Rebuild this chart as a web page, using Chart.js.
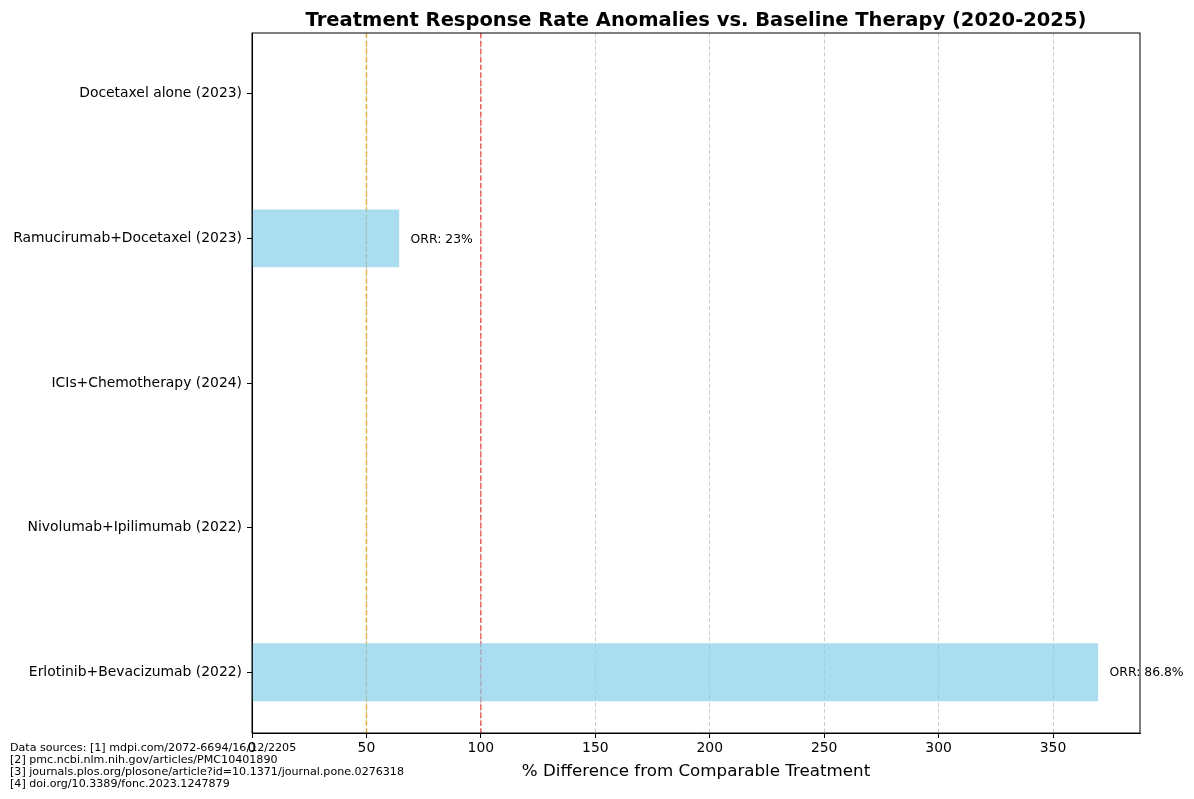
<!DOCTYPE html>
<html>
<head>
<meta charset="utf-8">
<script src="https://cdn.jsdelivr.net/npm/chart.js@4"></script>
<style>
    html, body { margin: 0; padding: 0; background: #fff; }
    #wrap { width: 1194px; height: 799px; }
</style>
</head>
<body>
<div id="wrap"><canvas id="chart"></canvas></div>
<script>
// bottom to top, same order as the picture's y axis from below
const treatments = [
    "Erlotinib+Bevacizumab (2022)",
    "Nivolumab+Ipilimumab (2022)",
    "ICIs+Chemotherapy (2024)",
    "Ramucirumab+Docetaxel (2023)",
    "Docetaxel alone (2023)"
];
const pctDifference = [369.7, null, null, 64.3, null];
const orrLabels = ["86.8%", null, null, "23%", null];
const xTicks = [0, 50, 100, 150, 200, 250, 300, 350];
const refLines = [
    { value: 50, color: "rgba(240, 160, 30, 0.75)" },
    { value: 100, color: "rgba(235, 40, 40, 0.7)" }
];
const sources = [
    "Data sources: [1] mdpi.com/2072-6694/16/12/2205",
    "[2] pmc.ncbi.nlm.nih.gov/articles/PMC10401890",
    "[3] journals.plos.org/plosone/article?id=10.1371/journal.pone.0276318",
    "[4] doi.org/10.3389/fonc.2023.1247879"
];
const titleText = "Treatment Response Rate Anomalies vs. Baseline Therapy (2020-2025)";

const FONT = "'DejaVu Sans', sans-serif";

const extras = {
    id: "extras",
    beforeDatasetsDraw(chart) {
        const { ctx, chartArea, scales } = chart;
        ctx.save();
        refLines.forEach(line => {
            const x = scales.x.getPixelForValue(line.value);
            ctx.strokeStyle = line.color;
            ctx.lineWidth = 1.5;
            ctx.setLineDash([5.5, 2.4]);
            ctx.beginPath();
            ctx.moveTo(x, chartArea.top);
            ctx.lineTo(x, chartArea.bottom);
            ctx.stroke();
        });
        ctx.restore();
    },
    afterDraw(chart) {
        const { ctx, chartArea, scales } = chart;
        ctx.save();
        // frame
        ctx.strokeStyle = "#000";
        ctx.lineWidth = 1;
        ctx.setLineDash([]);
        ctx.strokeRect(chartArea.left, chartArea.top, chartArea.right - chartArea.left, chartArea.bottom - chartArea.top);

        // title
        ctx.fillStyle = "#000";
        ctx.font = `bold 19.5px ${FONT}`;
        ctx.textAlign = "center";
        ctx.textBaseline = "middle";
        ctx.fillText(titleText, (chartArea.left + chartArea.right) / 2, 21);

        // ORR labels
        ctx.font = `12.4px ${FONT}`;
        ctx.textAlign = "left";
        const meta = chart.getDatasetMeta(0);
        pctDifference.forEach((v, i) => {
            if (v === null || !orrLabels[i]) return;
            const bar = meta.data[i];
            ctx.fillText(`ORR: ${orrLabels[i]}`, scales.x.getPixelForValue(v + 5), bar.y + 1);
        });

        // sources
        ctx.font = `11.1px ${FONT}`;
        sources.forEach((s, i) => ctx.fillText(s, 10, 748 + i * 12));
        ctx.restore();
    }
};

new Chart(document.getElementById("chart"), {
    type: "bar",
    data: {
        datasets: [{
            data: pctDifference.map((v, i) => ({ x: v, y: i })),
            backgroundColor: "rgba(135, 206, 235, 0.7)",
            borderWidth: 0,
            barPercentage: 0.4,
            categoryPercentage: 1.0
        }]
    },
    options: {
        indexAxis: "y",
        responsive: true,
        maintainAspectRatio: false,
        animation: false,
        layout: { padding: { top: 33, right: 54, left: 0, bottom: 17 } },
        plugins: {
            legend: { display: false },
            title: { display: false },
            tooltip: { enabled: false }
        },
        scales: {
            x: {
                type: "linear",
                min: 0,
                max: 388,
                afterBuildTicks: axis => { axis.ticks = xTicks.map(v => ({ value: v })); },
                afterFit: axis => { axis.height = 49; },
                ticks: { color: "#000", font: { family: FONT, size: 13.9 }, padding: 2, maxRotation: 0 },
                grid: { color: "#cccccc", lineWidth: 1, tickColor: "#000", tickLength: 5, tickBorderDash: [] },
                border: { color: "#000", dash: [4, 2.5] },
                title: {
                    display: true,
                    text: "% Difference from Comparable Treatment",
                    color: "#000",
                    font: { family: FONT, size: 16.7 },
                    padding: { top: 0, bottom: 0 }
                }
            },
            y: {
                type: "linear",
                offset: false,
                min: -0.42,
                max: 4.42,
                afterBuildTicks: axis => { axis.ticks = treatments.map((t, i) => ({ value: i })); },
                afterFit: axis => { axis.width = 252; },
                ticks: {
                    color: "#000",
                    font: { family: FONT, size: 13.9 },
                    padding: 5,
                    callback: v => treatments[v] || ""
                },
                grid: { offset: false, drawOnChartArea: false, tickColor: "#000", tickLength: 5 },
                border: { color: "#000" }
            }
        }
    },
    plugins: [extras]
});
</script>
</body>
</html>
